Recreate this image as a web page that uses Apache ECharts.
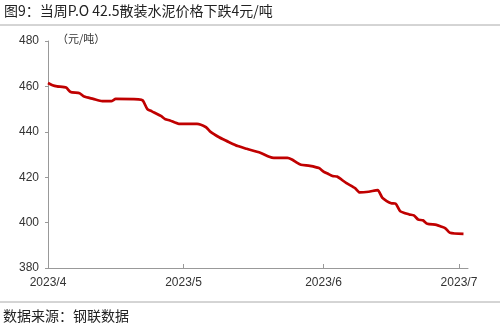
<!DOCTYPE html>
<html><head><meta charset="utf-8">
<script src="https://cdn.jsdelivr.net/npm/echarts@6/dist/echarts.min.js"></script>
<style>html,body{margin:0;padding:0;background:#fff}#c{width:500px;height:333px}</style>
</head><body><div id="c"></div>
<script>
var titleText = '图9：当周P.O 42.5散装水泥价格下跌4元/吨';
var sourceText = '数据来源：钢联数据';
var unitText = '（元/吨）';
var yTicks = [380, 400, 420, 440, 460, 480];
var monthLabels = ['2023/4', '2023/5', '2023/6', '2023/7'];
var dates = ['2023-04-01','2023-04-02','2023-04-03','2023-04-05','2023-04-06','2023-04-08','2023-04-09','2023-04-11','2023-04-13','2023-04-15','2023-04-16','2023-04-21','2023-04-22','2023-04-23','2023-04-24','2023-04-26','2023-04-27','2023-04-28','2023-04-30','2023-05-04','2023-05-06','2023-05-07','2023-05-09','2023-05-10','2023-05-11','2023-05-13','2023-05-15','2023-05-18','2023-05-20','2023-05-21','2023-05-24','2023-05-25','2023-05-26','2023-05-27','2023-05-29','2023-05-31','2023-06-01','2023-06-02','2023-06-03','2023-06-04','2023-06-06','2023-06-08','2023-06-09','2023-06-11','2023-06-13','2023-06-14','2023-06-15','2023-06-16','2023-06-17','2023-06-18','2023-06-20','2023-06-21','2023-06-22','2023-06-23','2023-06-24','2023-06-26','2023-06-27','2023-06-28','2023-06-29','2023-07-02'];
var prices = [461.5,460.5,460,459.5,457.5,457,455.5,454.5,453.5,453.5,454.5,454.3,453.8,450,449,447,445.5,445,443.5,443.5,442,440,437.5,436.5,435.5,433.7,432.5,430.8,429,428.5,428.5,427.8,426.5,425.5,425,424,422.5,421.5,420.5,420.3,417.5,415.2,413.3,413.6,414.3,411,409.5,408.5,408.3,405,403.6,403.2,401.3,401,399.5,399,398.3,397.5,395.5,395];

// full calendar category axis Apr 1 .. Jul 3
var cats = [];
var d = new Date(Date.UTC(2023, 3, 1));
var end = new Date(Date.UTC(2023, 6, 3));
while (d <= end) { cats.push(d.toISOString().slice(0, 10)); d = new Date(d.getTime() + 86400000); }
var lookup = {};
dates.forEach(function (k, i) { lookup[k] = prices[i]; });
var seriesData = cats.map(function (k) { return lookup[k] !== undefined ? lookup[k] : null; });
function isMonthStart(i) { return cats[i].slice(8) === '01'; }
function monthLabel(v) { var p = v.split('-'); return p[0] + '/' + parseInt(p[1], 10); }

var chart = echarts.init(document.getElementById('c'), null, {renderer: 'canvas'});
chart.setOption({
  animation: false,
  backgroundColor: '#fff',
  grid: {left: 48, right: 32, top: 41, bottom: 65},
  graphic: [
    {type: 'text', left: 4, top: 4, style: {text: titleText, font: '14px "Noto Sans CJK SC"', fill: '#222'}},
    {type: 'line', shape: {x1: 0, y1: 25, x2: 500, y2: 25}, style: {stroke: '#aaa', lineWidth: 1}},
    {type: 'line', shape: {x1: 0, y1: 302, x2: 500, y2: 302}, style: {stroke: '#aaa', lineWidth: 1}},
    {type: 'text', left: 3, top: 309, style: {text: sourceText, font: '14px "Noto Sans CJK SC"', fill: '#222'}},
    {type: 'text', left: 57, top: 33, style: {text: unitText, font: '11px "Noto Sans CJK SC"', fill: '#333'}}
  ],
  xAxis: {
    type: 'category', data: cats, boundaryGap: false,
    axisLine: {lineStyle: {color: '#999'}},
    axisTick: {inside: true, length: 4, interval: function (i) { return isMonthStart(i); }, lineStyle: {color: '#999'}},
    axisLabel: {interval: function (i) { return isMonthStart(i); }, formatter: monthLabel, color: '#333', fontFamily: 'Liberation Sans', fontSize: 12, margin: 9},
    splitLine: {show: false}
  },
  yAxis: {
    type: 'value', min: 380, max: 480, interval: 20,
    axisLine: {show: true, lineStyle: {color: '#999'}},
    axisTick: {show: true, length: 3, lineStyle: {color: '#999'}},
    axisLabel: {color: '#333', fontFamily: 'Liberation Sans', fontSize: 12, margin: 9},
    splitLine: {show: false}
  },
  series: [{
    type: 'line', data: seriesData, connectNulls: true, showSymbol: false, smooth: 0.2,
    lineStyle: {color: '#c00000', width: 2.7}, itemStyle: {color: '#c00000'}
  }]
});
</script></body></html>
